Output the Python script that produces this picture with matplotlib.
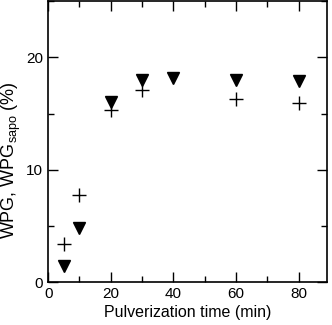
import matplotlib
matplotlib.use("Agg")
import matplotlib.pyplot as plt
from matplotlib.ticker import MultipleLocator

plt.rcParams['font.family'] = ['Liberation Sans', 'DejaVu Sans']

time_tri = [5, 10, 20, 30, 40, 60, 80]
wpg_tri = [1.5, 4.8, 16.0, 18.0, 18.15, 18.0, 17.9]
time_plus = [5, 10, 20, 30, 60, 80]
wpg_plus = [3.45, 7.75, 15.35, 17.1, 16.3, 15.95]

fig = plt.figure(figsize=(3.32, 3.25), dpi=100)
ax = fig.add_axes([0.145, 0.131, 0.84, 0.866])

ax.plot(time_tri, wpg_tri, linestyle='none', marker='v', color='black', markersize=9)
ax.plot(time_plus, wpg_plus, linestyle='none', marker='+', color='black', markersize=10, markeredgewidth=1.0)

ax.set_xlim(0, 89)
ax.set_ylim(0, 25)
ax.xaxis.set_major_locator(MultipleLocator(20))
ax.xaxis.set_minor_locator(MultipleLocator(10))
ax.yaxis.set_major_locator(MultipleLocator(10))
ax.yaxis.set_minor_locator(MultipleLocator(5))
ax.tick_params(which='both', direction='in', top=True, right=True, width=1.0, labelsize=11)
ax.tick_params(which='major', length=7)
ax.tick_params(which='minor', length=4)
for s in ax.spines.values():
    s.set_linewidth(1.2)

ax.set_xlabel('Pulverization time (min)', fontsize=11.5, labelpad=3)
ax.set_ylabel('WPG, WPG$_{\\mathregular{sapo}}$ (%)', fontsize=13)
ax.yaxis.set_label_coords(-0.09, 0.435)

fig.savefig('out.png', dpi=100)
